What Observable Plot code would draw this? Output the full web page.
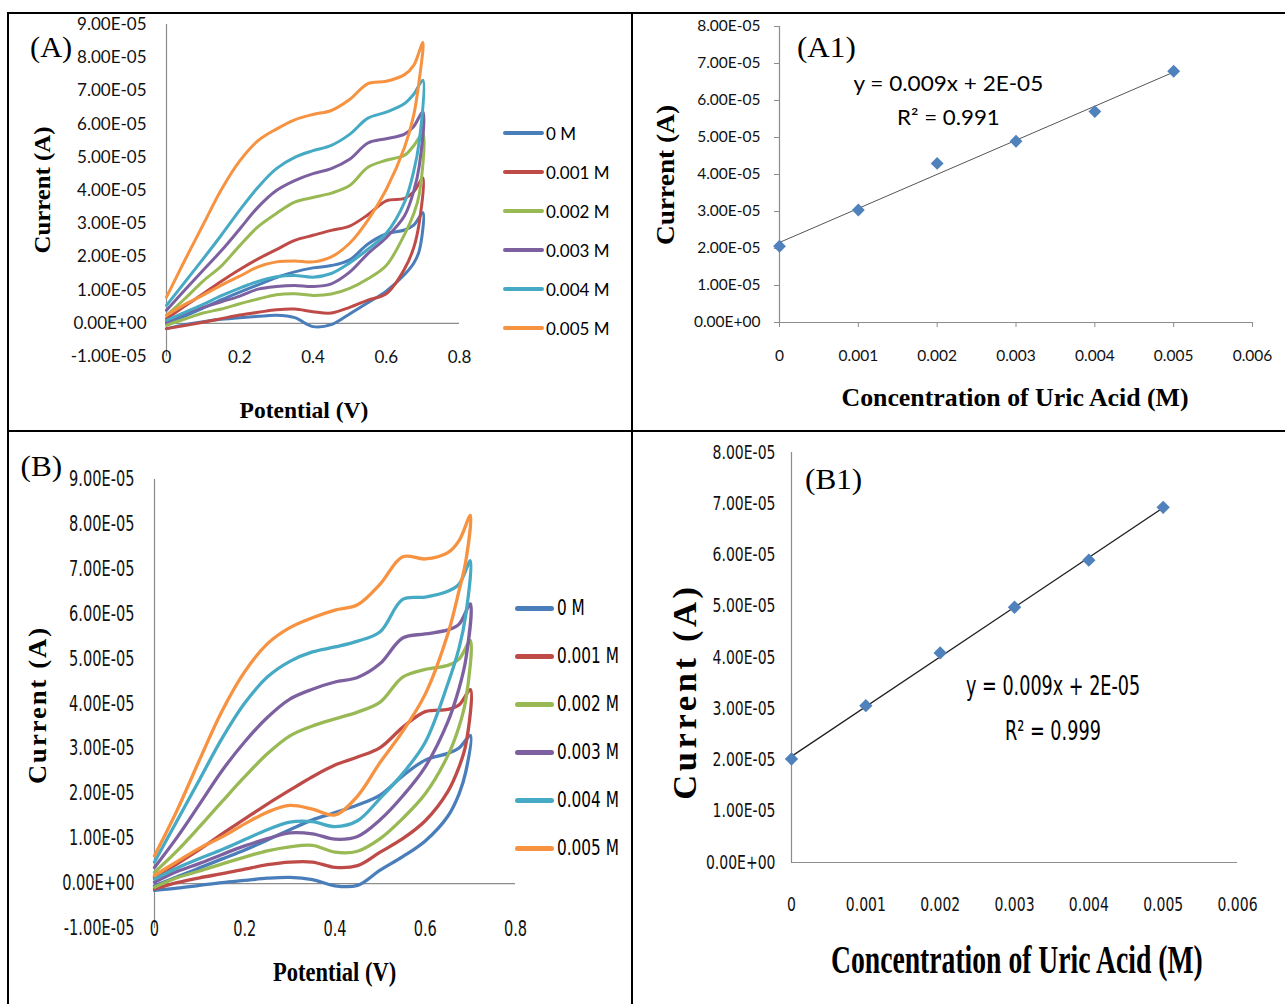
<!DOCTYPE html>
<html><head><meta charset="utf-8">
<script src="https://cdn.jsdelivr.net/npm/d3@7"></script>
<script src="https://cdn.jsdelivr.net/npm/@observablehq/plot@0.6"></script>
<style>
body{margin:0;background:#fff;}
#fig{position:relative;width:1285px;height:1004px;overflow:hidden;background:#fff;}
.cell{position:absolute;}
.cell svg{background:transparent !important;overflow:visible;}
.bar{position:absolute;background:#000;}
.lab{position:absolute;white-space:nowrap;line-height:1;color:#000;transform-origin:50% 50%;}
</style></head><body><div id="fig"></div>
<script>
// ---------- data ----------
const seriesNames = ["0 M","0.001 M","0.002 M","0.003 M","0.004 M","0.005 M"];
const seriesColors = ["#4A7EBB","#BE4B48","#98B954","#7D60A0","#46AAC5","#F69240"];

// potentials (V) of the anodic (forward) and cathodic (reverse) branches
const potentialForward = [0,0.05,0.1,0.15,0.2,0.25,0.3,0.35,0.4,0.45,0.5,0.55,0.6,0.65,0.675,0.7];
const potentialReverse = [0.69,0.675,0.65,0.6,0.55,0.5,0.45,0.4,0.35,0.3,0.25,0.2,0.15,0.1,0.05,0];

// Panel (A) currents, in units of 1E-05 A
const aFwd0 = [-0.01,0.22,0.46,0.71,0.94,1.16,1.38,1.55,1.67,1.74,1.91,2.39,2.69,2.81,2.96,3.33];
const aRev0 = [2.18,1.81,1.47,0.97,0.62,0.28,-0.04,-0.10,0.17,0.24,0.21,0.17,0.12,0.05,-0.04,-0.16];
const aFwd1 = [0.14,0.52,0.89,1.27,1.62,1.94,2.22,2.50,2.65,2.80,2.93,3.27,3.69,3.76,3.96,4.38];
const aRev1 = [3.03,2.28,1.64,0.89,0.70,0.48,0.31,0.35,0.43,0.41,0.33,0.25,0.14,0.03,-0.07,-0.16];
const aFwd2 = [0.24,0.74,1.27,1.73,2.34,2.91,3.31,3.65,3.79,3.92,4.15,4.70,4.91,5.06,5.35,5.72];
const aRev2 = [3.88,3.30,2.68,1.74,1.34,1.05,0.88,0.84,0.89,0.86,0.73,0.59,0.43,0.31,0.13,-0.06];
const aFwd3 = [0.39,1.00,1.60,2.19,2.84,3.50,4.00,4.30,4.51,4.66,4.94,5.43,5.56,5.70,5.93,6.37];
const aRev3 = [4.73,3.98,3.24,2.58,2.10,1.54,1.19,1.11,1.14,1.11,1.03,0.82,0.65,0.48,0.31,0.04];
const aFwd4 = [0.54,1.24,1.94,2.66,3.41,4.10,4.66,5.00,5.20,5.36,5.69,6.18,6.36,6.62,6.90,7.32];
const aRev4 = [5.47,4.58,3.65,2.71,2.23,1.82,1.50,1.39,1.44,1.40,1.26,1.06,0.83,0.57,0.33,0.09];
const aFwd5 = [0.79,1.90,2.97,4.03,4.89,5.50,5.85,6.13,6.29,6.41,6.74,7.22,7.29,7.49,7.77,8.46];
const aRev5 = [7.32,6.27,5.30,4.03,3.11,2.41,2.00,1.85,1.88,1.85,1.70,1.42,1.15,0.85,0.57,0.24];

// Panel (B) currents, in units of 1E-05 A
const bFwd0 = [-0.05,0.15,0.35,0.55,0.75,0.97,1.20,1.42,1.58,1.75,1.97,2.40,2.75,2.90,3.02,3.30];
const bRev0 = [2.50,2.00,1.50,0.95,0.60,0.30,-0.04,-0.05,0.09,0.14,0.12,0.07,0.02,-0.04,-0.10,-0.15];
const bFwd1 = [0.14,0.44,0.76,1.11,1.44,1.77,2.08,2.38,2.64,2.82,3.03,3.48,3.83,3.88,3.98,4.32];
const bRev1 = [3.10,2.60,2.05,1.40,1.00,0.70,0.40,0.36,0.48,0.48,0.42,0.32,0.22,0.13,0.02,-0.12];
const bFwd2 = [0.25,0.73,1.27,1.83,2.38,2.89,3.29,3.51,3.67,3.82,4.04,4.60,4.77,4.86,5.00,5.41];
const bRev2 = [4.10,3.50,2.85,2.00,1.45,1.00,0.72,0.70,0.85,0.82,0.73,0.59,0.44,0.28,0.13,-0.08];
const bFwd3 = [0.36,1.03,1.77,2.52,3.16,3.70,4.11,4.33,4.49,4.59,4.90,5.47,5.56,5.65,5.78,6.23];
const bRev3 = [5.00,4.35,3.60,2.60,1.95,1.42,1.05,0.99,1.11,1.13,1.00,0.84,0.65,0.45,0.27,0.03];
const bFwd4 = [0.48,1.40,2.32,3.24,4.02,4.60,4.95,5.16,5.27,5.40,5.61,6.33,6.38,6.51,6.67,7.19];
const bRev4 = [6.00,5.25,4.45,3.15,2.45,1.90,1.40,1.27,1.38,1.37,1.20,0.98,0.76,0.56,0.35,0.10];
const bFwd5 = [0.62,1.63,2.76,3.85,4.72,5.34,5.70,5.92,6.09,6.21,6.67,7.28,7.23,7.37,7.64,8.20];
const bRev5 = [7.19,6.53,5.56,4.22,3.39,2.70,1.95,1.53,1.66,1.74,1.59,1.33,1.04,0.79,0.49,0.18];

// Calibration panels (A1), (B1)
const concentration = [0,0.001,0.002,0.003,0.004,0.005];
const a1Current = [2.06,3.04,4.30,4.90,5.70,6.79]; // 1E-05 A
const b1Current = [2.02,3.06,4.09,4.98,5.90,6.93]; // 1E-05 A

// tick values
const cvYTicks = [-1e-5,0,1e-5,2e-5,3e-5,4e-5,5e-5,6e-5,7e-5,8e-5,9e-5];
const cvXTicks = [0,0.2,0.4,0.6,0.8];
const calYTicks = [0,1e-5,2e-5,3e-5,4e-5,5e-5,6e-5,7e-5,8e-5];
const calXTicks = [0,0.001,0.002,0.003,0.004,0.005,0.006];

// ---------- helpers ----------
const fig = document.getElementById("fig");
const sci = d => {
  if (Math.abs(d) < 1e-12) return "0.00E+00";
  const e = Math.floor(Math.log10(Math.abs(d)) + 1e-9);
  const m = d / Math.pow(10, e);
  return m.toFixed(2) + "E" + (e < 0 ? "-" : "+") + String(Math.abs(e)).padStart(2, "0");
};
function cvRows(fwd, rev) {
  const rows = [];
  seriesNames.forEach((s, i) => {
    potentialForward.forEach((v, j) => rows.push({series: s, potential: v, current: fwd[i][j] * 1e-5}));
    potentialReverse.forEach((v, j) => rows.push({series: s, potential: v, current: rev[i][j] * 1e-5}));
  });
  return rows;
}
function place(svg, left, top, squeeze) {
  const d = document.createElement("div");
  d.className = "cell"; d.style.left = left + "px"; d.style.top = top + "px";
  d.appendChild(svg); fig.appendChild(d);
  if (squeeze && squeeze !== 1) {
    svg.querySelectorAll("text").forEach(t => {
      const tr = t.getAttribute("transform");
      if (tr && !t.hasAttribute("x")) {
        t.setAttribute("transform", tr + ` scale(${squeeze},1)`);
      } else {
        const L = t.getComputedTextLength();
        if (L > 0) { t.setAttribute("textLength", (L * squeeze).toFixed(2)); t.setAttribute("lengthAdjust", "spacingAndGlyphs"); }
      }
    });
  }
}
function label(text, o) {
  const el = document.createElement("div");
  el.className = "lab"; el.textContent = text;
  el.style.fontFamily = o.font; el.style.fontSize = o.size + "px";
  el.style.fontWeight = o.weight || "normal";
  if (o.spacing) el.style.letterSpacing = o.spacing + "px";
  fig.appendChild(el);
  const w = el.offsetWidth, h = el.offsetHeight;
  const sx = o.length ? o.length / w : 1;
  el.style.left = (o.cx - w / 2) + "px"; el.style.top = (o.cy - h / 2) + "px";
  el.style.transform = `rotate(${o.rotate || 0}deg) scale(${sx},1)`;
}
const serif = "'Liberation Serif','Times New Roman',serif";
const sansA = "Lato, 'Open Sans', sans-serif";
const narrow = "'Liberation Sans Narrow','Arial Narrow','DejaVu Sans Condensed',sans-serif";
const axisGray = "#8c8c8c";

function cvPlot(rows, o) {
  return Plot.plot({
    width: o.width, height: o.height,
    marginLeft: o.ml, marginRight: o.mr, marginTop: o.mt, marginBottom: o.mb,
    x: {domain: [0, 0.8]}, y: {domain: [-1e-5, 9e-5]},
    color: {domain: seriesNames, range: seriesColors},
    style: {fontFamily: o.font, fontSize: o.fs + "px", color: "#111", background: "transparent", fontStretch: o.stretch || "normal"},
    marks: [
      Plot.ruleX([0], {stroke: axisGray, strokeWidth: 1.2}),
      Plot.ruleY([0], {stroke: axisGray, strokeWidth: 1.2}),
      Plot.axisY({ticks: cvYTicks, tickSize: 0, tickPadding: o.yPad, tickFormat: sci, label: null}),
      Plot.axisX({ticks: cvXTicks, tickSize: 0, tickPadding: o.xPad, tickFormat: d => String(d), label: null}),
      Plot.line(rows, {x: "potential", y: "current", z: "series", stroke: "series",
        strokeWidth: o.sw, curve: "catmull-rom", strokeLinejoin: "round", strokeLinecap: "round"})
    ]
  });
}
function calPlot(cur, o) {
  const rows = concentration.map((c, i) => ({conc: c, current: cur[i] * 1e-5}));
  return Plot.plot({
    width: o.width, height: o.height,
    marginLeft: o.ml, marginRight: o.mr, marginTop: o.mt, marginBottom: o.mb,
    x: {domain: [0, 0.006]}, y: {domain: [0, 8e-5]},
    style: {fontFamily: o.font, fontSize: o.fs + "px", color: "#111", background: "transparent", fontStretch: o.stretch || "normal"},
    marks: [
      Plot.ruleX([0], {stroke: axisGray, strokeWidth: 1.2}),
      Plot.ruleY([0], {stroke: axisGray, strokeWidth: 1.2}),
      Plot.axisY({ticks: calYTicks, tickSize: o.ts, stroke: axisGray, fill: "#111", tickPadding: o.yPad, tickFormat: sci, label: null}),
      Plot.axisX({ticks: calXTicks, tickSize: o.ts, stroke: axisGray, fill: "#111", tickPadding: o.xPad, tickFormat: d => String(d), label: null}),
      Plot.linearRegressionY(rows, {x: "conc", y: "current", stroke: o.trend, strokeWidth: o.tw, ci: 0}),
      Plot.dot(rows, {x: "conc", y: "current", symbol: "diamond2", r: o.r, fill: "#4F81BD", stroke: "none"})
    ]
  });
}

// ---------- panels ----------
const rowsA = cvRows([aFwd0,aFwd1,aFwd2,aFwd3,aFwd4,aFwd5], [aRev0,aRev1,aRev2,aRev3,aRev4,aRev5]);
const rowsB = cvRows([bFwd0,bFwd1,bFwd2,bFwd3,bFwd4,bFwd5], [bRev0,bRev1,bRev2,bRev3,bRev4,bRev5]);

place(cvPlot(rowsA, {width: 620, height: 414, ml: 156, mr: 171, mt: 9, mb: 73,
  font: sansA, fs: 17, yPad: 20, xPad: -6, sw: 3}), 10, 15, 1);
place(calPlot(a1Current, {width: 651, height: 414, ml: 145, mr: 33, mt: 11, mb: 107,
  font: sansA, fs: 15.5, ts: 5, yPad: 14, xPad: 22, trend: "#555", tw: 1, r: 5.8}), 634, 15, 1);
place(cvPlot(rowsB, {width: 620, height: 571, ml: 144, mr: 115, mt: 46, mb: 76,
  font: narrow, fs: 20.5, stretch: "condensed", yPad: 20, xPad: -7, sw: 3.3}), 10, 433, 0.79);
place(calPlot(b1Current, {width: 651, height: 571, ml: 157, mr: 48, mt: 19, mb: 142,
  font: narrow, fs: 19, stretch: "condensed", ts: 0, yPad: 16, xPad: 35, trend: "#222", tw: 1.3, r: 6}), 634, 433, 0.82);

// ---------- legends ----------
function legend(x0, lineW, lineH, textX, ys, font, fs, sx) {
  seriesNames.forEach((s, i) => {
    const ln = document.createElement("div");
    ln.style.cssText = `position:absolute;left:${x0}px;top:${ys[i] - lineH / 2}px;width:${lineW}px;height:${lineH}px;background:${seriesColors[i]};border-radius:${lineH / 2}px;`;
    fig.appendChild(ln);
    const t = document.createElement("div");
    t.className = "lab"; t.textContent = s;
    t.style.fontFamily = font; t.style.fontSize = fs + "px"; t.style.fontStretch = "condensed";
    fig.appendChild(t);
    t.style.left = textX + "px"; t.style.top = (ys[i] - t.offsetHeight / 2) + "px";
    t.style.transformOrigin = "0 50%"; t.style.transform = `scale(${sx},1)`;
  });
}
legend(503, 41, 4, 546, [133,172,211,250,289,328], sansA, 17, 1);
legend(515, 39, 5, 557, [608,656,704,752,800,848], narrow, 21, 0.81);

// ---------- titles & annotations ----------
label("(A)", {cx: 51, cy: 47, font: serif, size: 29, length: 42});
label("(A1)", {cx: 826, cy: 47, font: serif, size: 29, length: 59});
label("(B)", {cx: 41, cy: 466, font: serif, size: 29, length: 42});
label("(B1)", {cx: 833, cy: 479, font: serif, size: 29, length: 57});

label("Current (A)", {cx: 42, cy: 190, font: serif, size: 24, weight: "bold", rotate: -90, length: 127});
label("Potential (V)", {cx: 304, cy: 410, font: serif, size: 23, weight: "bold", length: 129});
label("Current (A)", {cx: 665, cy: 175, font: serif, size: 26, weight: "bold", rotate: -90, length: 140});
label("Concentration of Uric Acid (M)", {cx: 1015, cy: 397, font: serif, size: 25, weight: "bold", length: 347});
label("Current (A)", {cx: 37, cy: 705, font: serif, size: 26, weight: "bold", rotate: -90, spacing: 2, length: 158});
label("Potential (V)", {cx: 334, cy: 972, font: serif, size: 28, weight: "bold", length: 123});
label("Current (A)", {cx: 685, cy: 691, font: serif, size: 33, weight: "bold", rotate: -90, spacing: 3.5, length: 216});
label("Concentration of Uric Acid (M)", {cx: 1017, cy: 960, font: serif, size: 40, weight: "bold", length: 372});

label("y = 0.009x + 2E-05", {cx: 948, cy: 82, font: sansA, size: 21, length: 190});
label("R² = 0.991", {cx: 948, cy: 116, font: sansA, size: 21, length: 103});
label("y = 0.009x + 2E-05", {cx: 1053, cy: 685, font: narrow, size: 27, length: 174});
label("R² = 0.999", {cx: 1053, cy: 730, font: narrow, size: 27, length: 96});

// ---------- frame lines ----------
[[7,12,1278,2],[7,12,2,992],[631,12,2,992],[7,430,1278,2]].forEach(([l,t,w,h]) => {
  const b = document.createElement("div"); b.className = "bar";
  b.style.cssText += `left:${l}px;top:${t}px;width:${w}px;height:${h}px;`;
  fig.appendChild(b);
});
</script></body></html>
